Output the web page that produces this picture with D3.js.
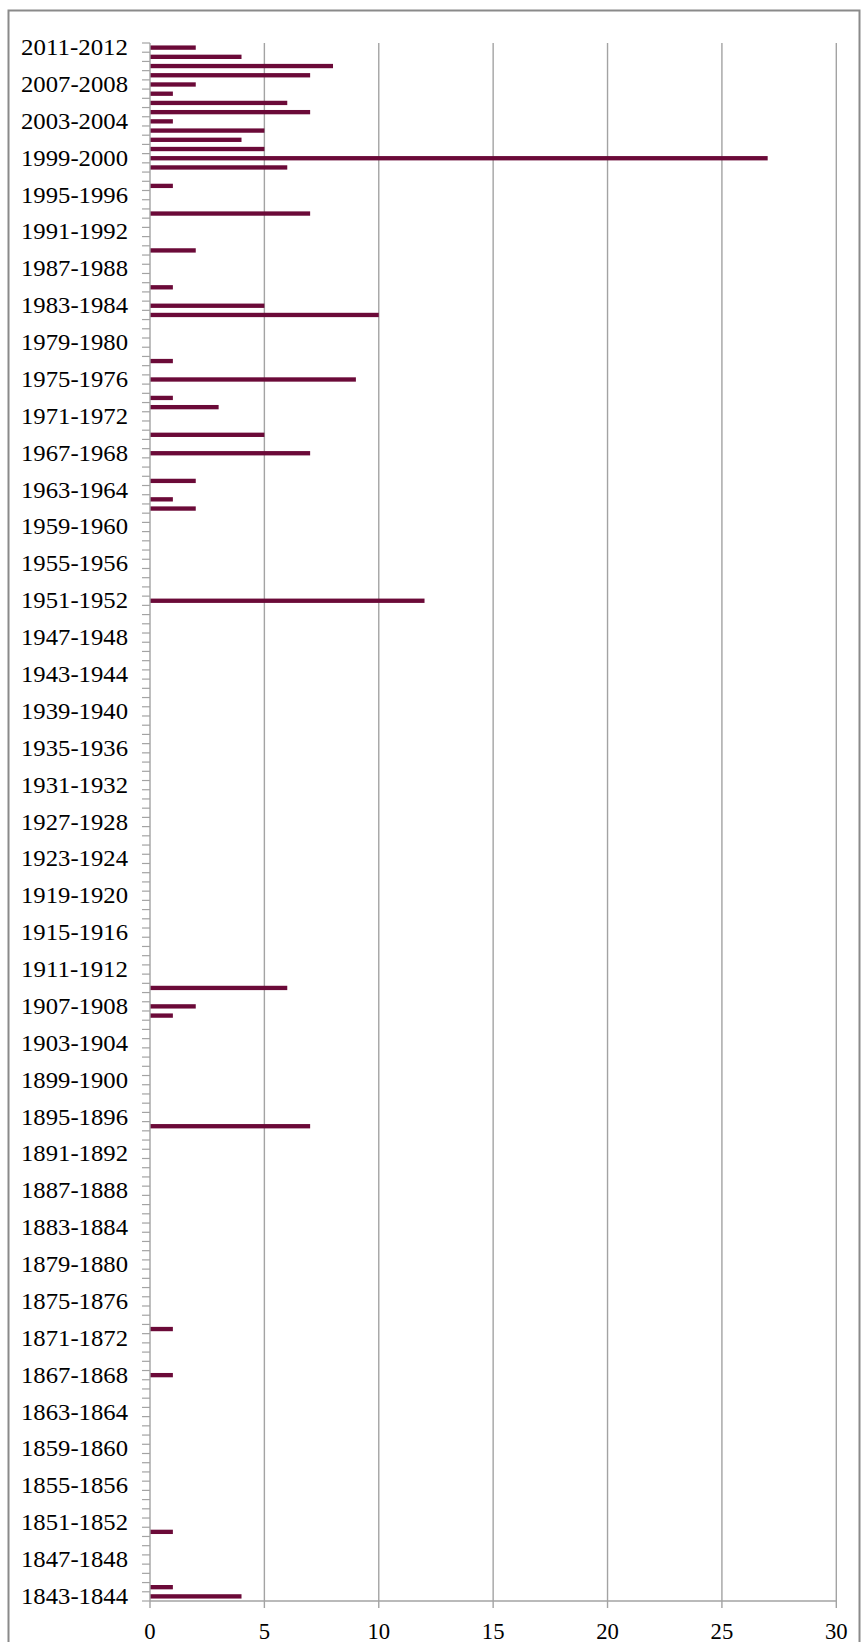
<!DOCTYPE html>
<html>
<head>
<meta charset="utf-8">
<script src="https://cdn.jsdelivr.net/npm/d3@7"></script>
<style>
  html, body { margin: 0; padding: 0; background: #fff; }
  svg { display: block; }
  text { font-family: "Liberation Serif", "Times New Roman", serif; fill: #000; }
</style>
</head>
<body>
<svg id="chart" width="862" height="1642"></svg>
<script>
// Seasons, oldest first: 1843-1844 ... 2011-2012
const startYears = d3.range(1843, 2012);
const categories = startYears.map(yr => yr + "-" + (yr + 1));

// Values per season, in the same order (1843-1844 first)
const values = [
  4, 1, 0, 0, 0, 0, 0, 1, 0, 0,   // 1843-1852
  0, 0, 0, 0, 0, 0, 0, 0, 0, 0,   // 1853-1862
  0, 0, 0, 0, 1, 0, 0, 0, 0, 1,   // 1863-1872
  0, 0, 0, 0, 0, 0, 0, 0, 0, 0,   // 1873-1882
  0, 0, 0, 0, 0, 0, 0, 0, 0, 0,   // 1883-1892
  0, 7, 0, 0, 0, 0, 0, 0, 0, 0,   // 1893-1902
  0, 0, 0, 1, 2, 0, 6, 0, 0, 0,   // 1903-1912
  0, 0, 0, 0, 0, 0, 0, 0, 0, 0,   // 1913-1922
  0, 0, 0, 0, 0, 0, 0, 0, 0, 0,   // 1923-1932
  0, 0, 0, 0, 0, 0, 0, 0, 0, 0,   // 1933-1942
  0, 0, 0, 0, 0, 0, 0, 0, 12, 0,  // 1943-1952
  0, 0, 0, 0, 0, 0, 0, 0, 2, 1,   // 1953-1962
  0, 2, 0, 0, 7, 0, 5, 0, 0, 3,   // 1963-1972
  1, 0, 9, 0, 1, 0, 0, 0, 0, 10,  // 1973-1982
  5, 0, 1, 0, 0, 0, 2, 0, 0, 0,   // 1983-1992
  7, 0, 0, 1, 0, 6, 27, 5, 4, 5,  // 1993-2002
  1, 7, 6, 1, 2, 7, 8, 4, 2       // 2003-2011
];

// Axis tick values
const xTicks = [0, 5, 10, 15, 20, 25, 30];
const labelledCategories = categories.filter((c, i) => i % 4 === 0);

(function () {
  const data = categories.map((c, i) => ({ cat: c, value: values[i] }));

  const svg = d3.select("#chart");
  const mLeft = 150, mRight = 836.3, mTop = 43, mBottom = 1601;

  // outer frame
  svg.append("rect")
    .attr("x", 8.5).attr("y", 10.5)
    .attr("width", 851).attr("height", 1640)
    .attr("fill", "none").attr("stroke", "#8a8a8a").attr("stroke-width", 2);

  const x = d3.scaleLinear().domain([0, 30]).range([mLeft, mRight]);
  const y = d3.scaleBand()
    .domain(categories.slice().reverse())
    .range([mTop, mBottom])
    .paddingInner(0.53)
    .paddingOuter(0.265);

  const step = y.step();
  const grey = "#a3a3a3";

  // vertical gridlines
  svg.append("g").selectAll("line")
    .data(xTicks.filter(d => d > 0))
    .join("line")
    .attr("x1", d => x(d)).attr("x2", d => x(d))
    .attr("y1", mTop).attr("y2", mBottom)
    .attr("stroke", grey).attr("stroke-width", 1.4);

  // bars
  svg.append("g").selectAll("rect")
    .data(data.filter(d => d.value > 0))
    .join("rect")
    .attr("x", x(0))
    .attr("y", d => y(d.cat))
    .attr("width", d => x(d.value) - x(0))
    .attr("height", y.bandwidth())
    .attr("fill", "#6b0a38");

  // y-axis line + boundary ticks
  const yAxisG = svg.append("g");
  yAxisG.append("line")
    .attr("x1", mLeft).attr("x2", mLeft)
    .attr("y1", mTop).attr("y2", mBottom)
    .attr("stroke", grey).attr("stroke-width", 1.4);
  const boundaries = categories.slice().reverse().map(c => y(c) - y.paddingOuter() * step);
  boundaries.push(mBottom);
  yAxisG.selectAll("line.tick")
    .data(boundaries)
    .join("line")
    .attr("class", "tick")
    .attr("x1", mLeft - 8).attr("x2", mLeft)
    .attr("y1", d => d).attr("y2", d => d)
    .attr("stroke", grey).attr("stroke-width", 1.2);

  // y labels (every 4th season)
  yAxisG.selectAll("text")
    .data(labelledCategories)
    .join("text")
    .attr("x", 128)
    .attr("y", d => y(d) + y.bandwidth() / 2 + 7.5)
    .attr("text-anchor", "end")
    .attr("font-size", 22.7)
    .attr("textLength", 107)
    .attr("lengthAdjust", "spacingAndGlyphs")
    .text(d => d);

  // x axis
  const xAxisG = svg.append("g");
  xAxisG.append("line")
    .attr("x1", mLeft).attr("x2", mRight)
    .attr("y1", mBottom).attr("y2", mBottom)
    .attr("stroke", grey).attr("stroke-width", 1.4);
  xAxisG.selectAll("line.tick")
    .data(xTicks)
    .join("line")
    .attr("class", "tick")
    .attr("x1", d => x(d)).attr("x2", d => x(d))
    .attr("y1", mBottom).attr("y2", mBottom + 7)
    .attr("stroke", grey).attr("stroke-width", 1.4);
  xAxisG.selectAll("text")
    .data(xTicks)
    .join("text")
    .attr("x", d => x(d))
    .attr("y", 1638.5)
    .attr("text-anchor", "middle")
    .attr("font-size", 22.7)
    .text(d => d);
})();
</script>
</body>
</html>
